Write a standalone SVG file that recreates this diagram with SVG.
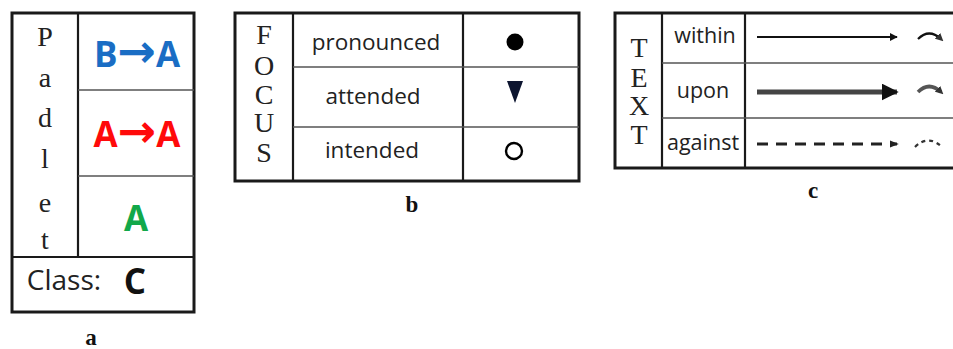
<svg xmlns="http://www.w3.org/2000/svg" width="953" height="349" viewBox="0 0 953 349">
<style>
.box{fill:none;stroke:#1a1a1a;stroke-width:3}
.div{stroke:#1a1a1a;stroke-width:2.2}
.sep{stroke:#555;stroke-width:1.6}
.tm{font-family:"Liberation Serif",serif;font-size:28px;fill:#222;text-anchor:middle}
.cal{font-family:"Open Sans","Liberation Sans",sans-serif;fill:#222;text-anchor:middle}
.big{font-family:"Open Sans","Liberation Sans",sans-serif;font-weight:bold;font-size:35px;text-anchor:middle}
.arr{font-family:"DejaVu Sans",sans-serif;font-size:46px}
.lab{font-family:"Liberation Serif",serif;font-weight:bold;font-size:23px;fill:#111;text-anchor:middle}
</style>
<defs>
<marker id="hs" viewBox="0 0 10 10" refX="9" refY="5" markerWidth="4" markerHeight="4" orient="auto" markerUnits="strokeWidth"><path d="M0,0L10,5L0,10z" fill="#111"/></marker>
<marker id="hb" viewBox="0 0 10 10" refX="9" refY="5" markerWidth="3.4" markerHeight="3.4" orient="auto" markerUnits="strokeWidth"><path d="M0,0L10,5L0,10z" fill="#111"/></marker>
<marker id="ha" viewBox="0 0 10 10" refX="8" refY="5" markerWidth="3" markerHeight="3" orient="auto" markerUnits="strokeWidth"><path d="M0,1L10,5L0,9z" fill="#222"/></marker>
<marker id="hc" viewBox="0 0 10 10" refX="6" refY="5" markerWidth="8" markerHeight="8" orient="auto" markerUnits="userSpaceOnUse"><path d="M0,0L10,5L0,10z" fill="#333"/></marker>
</defs>

<g id="panel-a">
<rect class="box" x="12" y="13" width="182" height="299"/>
<line class="div" x1="78" y1="13" x2="78" y2="257"/>
<line class="sep" x1="78" y1="90" x2="194" y2="90"/>
<line class="sep" x1="78" y1="176" x2="194" y2="176"/>
<line class="div" x1="12" y1="257" x2="194" y2="257"/>
<text class="tm" x="45" y="46">P</text>
<text class="tm" x="45" y="87">a</text>
<text class="tm" x="45" y="127">d</text>
<text class="tm" x="45" y="168">l</text>
<text class="tm" x="45" y="212">e</text>
<text class="tm" x="45" y="249">t</text>
<g id="row-ba"><text class="big" x="137" y="67" fill="#1a6dc4">B<tspan class="arr">→</tspan>A</text></g>
<g id="row-aa"><text class="big" x="137" y="147" fill="#ff0a0a">A<tspan class="arr">→</tspan>A</text></g>
<g id="row-a"><text class="big" x="136" y="231" fill="#12a84a">A</text></g>
<g id="class"><text class="cal" x="64" y="290" font-size="28px">Class:</text><text class="big" x="135" y="294" font-size="38px" fill="#111">C</text></g>
</g>
<text class="lab" x="91" y="345">a</text>

<g id="panel-b">
<rect class="box" x="235" y="13" width="344" height="168"/>
<line class="div" x1="293" y1="13" x2="293" y2="181"/>
<line class="div" x1="463" y1="13" x2="463" y2="181"/>
<line class="sep" x1="293" y1="67" x2="579" y2="67"/>
<line class="sep" x1="293" y1="127" x2="579" y2="127"/>
<text class="tm" x="264" y="44" font-size="24px">F</text>
<text class="tm" x="264" y="75" font-size="24px">O</text>
<text class="tm" x="264" y="104" font-size="24px">C</text>
<text class="tm" x="264" y="132" font-size="24px">U</text>
<text class="tm" x="264" y="162" font-size="24px">S</text>
<g id="pronounced"><text class="cal" x="376" y="50" font-size="22.5px">pronounced</text><circle cx="515" cy="42" r="8.5" fill="#000"/></g>
<g id="attended"><text class="cal" x="373" y="104" font-size="22.5px">attended</text><path d="M507,81L523,81L515,103z" fill="#0d1530"/></g>
<g id="intended"><text class="cal" x="372" y="158" font-size="22.5px">intended</text><circle cx="514" cy="151" r="8" fill="none" stroke="#000" stroke-width="2.4"/></g>
</g>
<text class="lab" x="412" y="212">b</text>

<g id="panel-c">
<path class="box" d="M958,13H615V168H958"/>
<line class="div" x1="662" y1="13" x2="662" y2="168"/>
<line class="div" x1="745" y1="13" x2="745" y2="168"/>
<line class="sep" x1="662" y1="63" x2="958" y2="63"/>
<line class="sep" x1="662" y1="118" x2="958" y2="118"/>
<text class="tm" x="639" y="57" font-size="24px">T</text>
<text class="tm" x="639" y="87" font-size="24px">E</text>
<text class="tm" x="639" y="115" font-size="24px">X</text>
<text class="tm" x="639" y="144" font-size="24px">T</text>
<g id="within"><text class="cal" x="705" y="43" font-size="21.5px">within</text></g>
<g id="upon"><text class="cal" x="703" y="98" font-size="21.5px">upon</text></g>
<g id="against"><text class="cal" x="703" y="150" font-size="21.5px">against</text></g>
</g>
<g id="connectors" fill="none">
<line x1="757" y1="37" x2="897" y2="37" stroke="#111" stroke-width="2" marker-end="url(#hs)"/>
<line x1="757" y1="92" x2="897" y2="92" stroke="#444" stroke-width="5" marker-end="url(#hb)"/>
<line x1="757" y1="144" x2="897" y2="144" stroke="#222" stroke-width="3" stroke-dasharray="11 8" marker-end="url(#ha)"/>
<path d="M918,39Q929,28 941,39" stroke="#111" stroke-width="2.2" marker-end="url(#hc)"/>
<path d="M918,92Q929,81 941,92" stroke="#555" stroke-width="3.6" marker-end="url(#hc)"/>
<path d="M915,147Q928,134 942,147" stroke="#333" stroke-width="2.2" stroke-dasharray="4 4"/>
</g>
<text class="lab" x="813" y="198">c</text>
</svg>
